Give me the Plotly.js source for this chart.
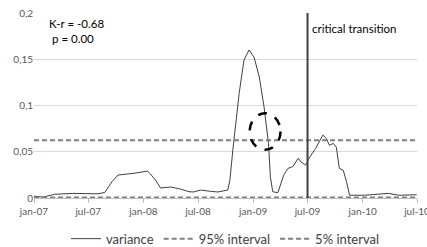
<!DOCTYPE html>
<html>
<head>
<meta charset="utf-8">
<script src="https://cdn.plot.ly/plotly-3.0.1.min.js"></script>
<style>html,body{margin:0;padding:0;background:#fff;}#chart{width:427px;height:247px;}</style>
</head>
<body>
<div id="chart"></div>
<script>
const dates = ["2007-01-01","2007-02-01","2007-03-10","2007-05-10","2007-08-02","2007-08-25","2007-09-18","2007-10-08","2007-11-27","2008-01-14","2008-01-24","2008-02-10","2008-02-27","2008-04-01","2008-05-03","2008-06-01","2008-06-16","2008-07-09","2008-08-12","2008-09-05","2008-10-08","2008-10-15","2008-10-25","2008-11-15","2008-12-01","2008-12-18","2009-01-04","2009-01-21","2009-02-06","2009-02-21","2009-02-27","2009-03-07","2009-03-24","2009-04-03","2009-04-13","2009-04-27","2009-05-13","2009-05-31","2009-06-09","2009-06-25","2009-07-06","2009-07-28","2009-08-21","2009-09-02","2009-09-12","2009-09-25","2009-10-05","2009-10-15","2009-10-28","2009-11-08","2009-11-18","2010-01-07","2010-03-03","2010-03-27","2010-05-01","2010-06-22","2010-06-30"];
const variance = [0.002,0.001,0.004,0.005,0.0045,0.006,0.0176,0.0248,0.0266,0.029,0.026,0.0194,0.0108,0.0119,0.0097,0.0068,0.0065,0.0086,0.0072,0.0065,0.0086,0.019,0.052,0.113,0.149,0.160,0.152,0.131,0.0985,0.059,0.023,0.0068,0.0057,0.016,0.025,0.032,0.034,0.043,0.039,0.0356,0.043,0.0536,0.068,0.0644,0.057,0.059,0.055,0.032,0.030,0.0176,0.003,0.003,0.004,0.005,0.003,0.004,0.0035];
const intervalDates = ["2007-01-01","2010-07-01"];
const upper95 = [0.0623,0.0623];
const lower5 = [0.0005,0.0005];
const transitionDate = "2009-07-01";
const yTickVals = [0,0.05,0.1,0.15,0.2];
const yTickText = ["0","0,05","0,1","0,15","0,2"];
const xTickVals = ["2007-01-01","2007-07-01","2008-01-01","2008-07-01","2009-01-01","2009-07-01","2010-01-01","2010-07-01"];
const xTickText = ["jan-07","jul-07","jan-08","jul-08","jan-09","jul-09","jan-10","jul-10"];
const statsText = ["K-r = -0.68","p = 0.00"];
const highlight = {x0:"2008-12-20", x1:"2009-04-02", y0:0.0521, y1:0.0917};

const traces = [
  {x:dates, y:variance, type:"scatter", mode:"lines", name:"variance",
   line:{color:"#404040", width:1}},
  {x:intervalDates, y:upper95, type:"scatter", mode:"lines", name:"95% interval",
   line:{color:"#7f7f7f", width:2, dash:"5px,3px"}},
  {x:intervalDates, y:lower5, type:"scatter", mode:"lines", name:"5% interval",
   line:{color:"#7f7f7f", width:2, dash:"5px,3px"}}
];
const layout = {
  width:427, height:247,
  margin:{l:34, r:10, t:13, b:49, autoexpand:false},
  paper_bgcolor:"#fff", plot_bgcolor:"#fff",
  font:{family:"Lato, 'Open Sans', sans-serif", color:"#404040", size:10},
  showlegend:true,
  legend:{orientation:"h", x:0.5, xanchor:"center", y:-0.22, yanchor:"middle",
    font:{size:13, color:"#404040"}, itemwidth:30, tracegroupgap:0},
  xaxis:{type:"date", range:["2007-01-01","2010-07-01"], tickvals:xTickVals, ticktext:xTickText,
    showgrid:false, showline:true, linecolor:"#bfbfbf", linewidth:1, ticks:"outside", ticklen:4, tickcolor:"#bfbfbf",
    tickfont:{size:10, color:"#595959"}, zeroline:false, fixedrange:true, ticklabeloverflow:"allow"},
  yaxis:{range:[0,0.2], tickvals:yTickVals, ticktext:yTickText, showgrid:true, gridcolor:"#d9d9d9", gridwidth:1,
    showline:false, zeroline:false, ticks:"", tickfont:{size:10, color:"#595959"}, fixedrange:true},
  shapes:[
    {type:"line", xref:"x", yref:"y", x0:transitionDate, x1:transitionDate, y0:0, y1:0.2,
     line:{color:"#404040", width:2}},
    {type:"circle", xref:"x", yref:"y", x0:highlight.x0, x1:highlight.x1, y0:highlight.y0, y1:highlight.y1,
     line:{color:"#000", width:2.5, dash:"dash"}}
  ],
  annotations:[
    {xref:"paper", yref:"paper", x:0.034, y:0.944, xanchor:"left", yanchor:"middle", showarrow:false,
     text:statsText[0], font:{size:11.5, color:"#000"}},
    {xref:"paper", yref:"paper", x:0.042, y:0.863, xanchor:"left", yanchor:"middle", showarrow:false,
     text:statsText[1], font:{size:11.5, color:"#000"}},
    {xref:"x", yref:"y", x:transitionDate, y:0.1834, xanchor:"left", yanchor:"middle", xshift:2, showarrow:false,
     text:"critical transition", font:{size:11.5, color:"#000"}}
  ]
};
Plotly.newPlot("chart", traces, layout, {displayModeBar:false, staticPlot:true});
</script>
</body>
</html>
